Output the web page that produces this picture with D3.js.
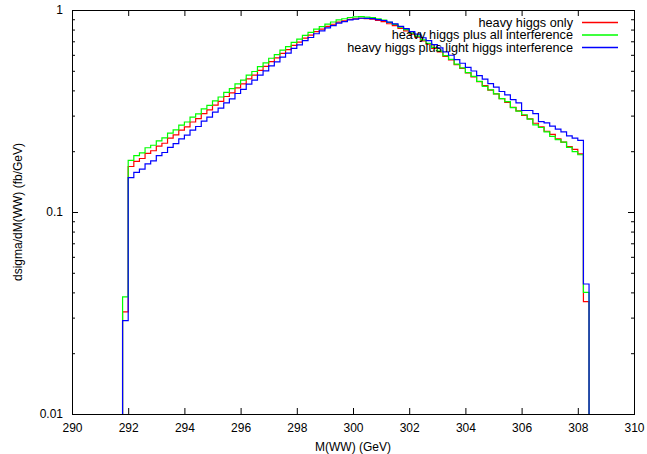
<!doctype html>
<meta charset="utf-8">

<style>
    body {
        margin: 0;
        background: #fff;
    }

    text {
        font-family: "Liberation Sans", Arial, sans-serif;
        font-size: 12px;
        fill: #000;
    }

    .legend text {
        font-size: 12.7px;
    }
</style>

<div id="chart"></div>

<script src="https://d3js.org/d3.v7.min.js"></script>

<script>

// binning of the M(WW) histogram
let binStart = 291.8
let binWidth = 0.2

let seriesNames = [
    "heavy higgs only",
    "heavy higgs plus all interference",
    "heavy higgs plus light higgs interference"
]
let seriesColors = ["#ff0000", "#00ff00", "#0000ff"]

let heavyOnly = [0.032,
    0.168, 0.178, 0.184, 0.195, 0.201, 0.212, 0.219, 0.232, 0.241, 0.254,
    0.264, 0.279, 0.290, 0.307, 0.320, 0.338, 0.353, 0.373, 0.389, 0.412,
    0.431, 0.456, 0.476, 0.503, 0.526, 0.555, 0.579, 0.610, 0.636, 0.668,
    0.694, 0.726, 0.751, 0.781, 0.804, 0.830, 0.850, 0.871, 0.884, 0.898,
    0.905, 0.910, 0.906, 0.900, 0.888, 0.875, 0.855, 0.836, 0.811, 0.788,
    0.759, 0.734, 0.703, 0.677, 0.646, 0.620, 0.590, 0.566, 0.537, 0.514,
    0.488, 0.467, 0.442, 0.423, 0.401, 0.384, 0.364, 0.349, 0.330, 0.317,
    0.301, 0.289, 0.275, 0.264, 0.251, 0.242, 0.230, 0.222, 0.211, 0.204,
    0.194,
    0.036]

let allInterference = [0.038,
    0.180, 0.190, 0.196, 0.208, 0.214, 0.225, 0.233, 0.246, 0.255, 0.269,
    0.279, 0.295, 0.306, 0.324, 0.337, 0.355, 0.371, 0.391, 0.408, 0.431,
    0.450, 0.476, 0.496, 0.524, 0.547, 0.577, 0.601, 0.633, 0.659, 0.691,
    0.717, 0.749, 0.774, 0.804, 0.827, 0.852, 0.872, 0.893, 0.905, 0.918,
    0.924, 0.928, 0.923, 0.916, 0.904, 0.890, 0.869, 0.849, 0.822, 0.799,
    0.769, 0.743, 0.711, 0.684, 0.652, 0.626, 0.595, 0.570, 0.540, 0.517,
    0.490, 0.469, 0.443, 0.419, 0.402, 0.384, 0.364, 0.352, 0.329, 0.316,
    0.303, 0.288, 0.270, 0.262, 0.249, 0.237, 0.228, 0.222, 0.209, 0.199,
    0.192,
    0.040]

let lightInterference = [0.029,
    0.148, 0.157, 0.163, 0.173, 0.179, 0.190, 0.197, 0.209, 0.218, 0.230,
    0.240, 0.254, 0.265, 0.282, 0.295, 0.312, 0.327, 0.347, 0.363, 0.386,
    0.405, 0.430, 0.450, 0.476, 0.500, 0.529, 0.554, 0.585, 0.612, 0.645,
    0.672, 0.705, 0.731, 0.763, 0.788, 0.815, 0.837, 0.861, 0.876, 0.893,
    0.902, 0.910, 0.909, 0.906, 0.897, 0.887, 0.870, 0.853, 0.830, 0.809,
    0.782, 0.759, 0.729, 0.705, 0.674, 0.650, 0.620, 0.597, 0.568, 0.545,
    0.520, 0.499, 0.473, 0.455, 0.432, 0.415, 0.395, 0.380, 0.360, 0.347,
    0.318, 0.318, 0.307, 0.280, 0.276, 0.266, 0.257, 0.249, 0.238, 0.232,
    0.226,
    0.044]

let xTicks = d3.range(290, 311, 2)
let yMajorTicks = [0.01, 0.1, 1]
let yMinorTicks = [0.02, 0.03, 0.04, 0.05, 0.06, 0.07, 0.08, 0.09,
                   0.2, 0.3, 0.4, 0.5, 0.6, 0.7, 0.8, 0.9]

let chartWidth = 647
let chartHeight = 454
let margin = {top: 10, right: 13, bottom: 40, left: 72}
let plotWidth = chartWidth - margin.left - margin.right
let plotHeight = chartHeight - margin.top - margin.bottom

let svg = d3
    .select("#chart")
    .append("svg")
    .attr("width", chartWidth)
    .attr("height", chartHeight)

let plotGroup = svg
    .append("g")
    .attr("transform", "translate(" + margin.left + "," + margin.top + ")")

let xScale = d3.scaleLinear().domain([290, 310]).range([0, plotWidth])
let yScale = d3.scaleLog().domain([0.01, 1]).range([plotHeight, 0])

plotGroup.append("clipPath")
    .attr("id", "plotClip")
    .append("rect")
    .attr("width", plotWidth)
    .attr("height", plotHeight)

// histogram steps
let binEdges = d3.range(heavyOnly.length + 1).map(i => binStart + i * binWidth)

let stepLine = d3.line()
    .x(d => xScale(d[0]))
    .y(d => d[1] == null ? plotHeight : yScale(d[1]))
    .curve(d3.curveStepAfter)

function stepPoints(values) {
    let pts = [[binEdges[0], null]]
    values.forEach((v, i) => pts.push([binEdges[i], v]))
    pts.push([binEdges[values.length], values[values.length - 1]])
    pts.push([binEdges[values.length], null])
    return pts
}

let allSeries = [heavyOnly, allInterference, lightInterference]

plotGroup.append("g")
    .attr("clip-path", "url(#plotClip)")
    .selectAll("path")
    .data(allSeries)
    .join("path")
    .attr("d", d => stepLine(stepPoints(d)))
    .attr("fill", "none")
    .attr("stroke", (d, i) => seriesColors[i])
    .attr("stroke-width", 1.2)

// axes, ticks drawn inward and mirrored like gnuplot
function tidy(g) {
    g.select(".domain").remove()
    g.selectAll("line").attr("stroke", "#000")
    g.selectAll("text").attr("font-size", null).attr("font-family", null).attr("fill", null)
}

plotGroup.append("g")
    .attr("transform", "translate(0," + plotHeight + ")")
    .call(d3.axisBottom(xScale).tickValues(xTicks).tickFormat(d3.format("d"))
        .tickSizeInner(-6).tickSizeOuter(0).tickPadding(9))
    .call(tidy)

plotGroup.append("g")
    .call(d3.axisTop(xScale).tickValues(xTicks).tickFormat("")
        .tickSizeInner(-6).tickSizeOuter(0))
    .call(tidy)

plotGroup.append("g")
    .call(d3.axisLeft(yScale).tickValues(yMajorTicks).tickFormat(d3.format("~g"))
        .tickSizeInner(-6).tickSizeOuter(0).tickPadding(9))
    .call(tidy)

plotGroup.append("g")
    .call(d3.axisLeft(yScale).tickValues(yMinorTicks).tickFormat("")
        .tickSizeInner(-3).tickSizeOuter(0))
    .call(tidy)

plotGroup.append("g")
    .attr("transform", "translate(" + plotWidth + ",0)")
    .call(d3.axisRight(yScale).tickValues(yMajorTicks).tickFormat("")
        .tickSizeInner(-6).tickSizeOuter(0))
    .call(tidy)

plotGroup.append("g")
    .attr("transform", "translate(" + plotWidth + ",0)")
    .call(d3.axisRight(yScale).tickValues(yMinorTicks).tickFormat("")
        .tickSizeInner(-3).tickSizeOuter(0))
    .call(tidy)

plotGroup.append("rect")
    .attr("width", plotWidth)
    .attr("height", plotHeight)
    .attr("fill", "none")
    .attr("stroke", "#000")
    .attr("stroke-width", 1)
    .attr("shape-rendering", "crispEdges")

// axis titles
plotGroup.append("text")
    .attr("x", plotWidth / 2)
    .attr("y", plotHeight + 37)
    .style("text-anchor", "middle")
    .text("M(WW) (GeV)")

plotGroup.append("text")
    .attr("transform", "rotate(-90)")
    .attr("x", -plotHeight / 2)
    .attr("y", -50)
    .style("text-anchor", "middle")
    .text("dsigma/dM(WW) (fb/GeV)")

// legend
let legend = plotGroup.append("g")
    .attr("class", "legend")
    .attr("transform", "translate(" + (plotWidth - 61) + ",12.5)")

let legendRows = legend.selectAll("g")
    .data(seriesNames)
    .join("g")
    .attr("transform", (d, i) => "translate(0," + i * 12.5 + ")")

legendRows.append("text")
    .attr("x", 0)
    .attr("dy", "0.35em")
    .style("text-anchor", "end")
    .text(d => d)

legendRows.append("rect")
    .attr("x", 9)
    .attr("y", -0.75)
    .attr("width", 36)
    .attr("height", 1.5)
    .attr("fill", d => seriesColors[seriesNames.indexOf(d)])

</script>
